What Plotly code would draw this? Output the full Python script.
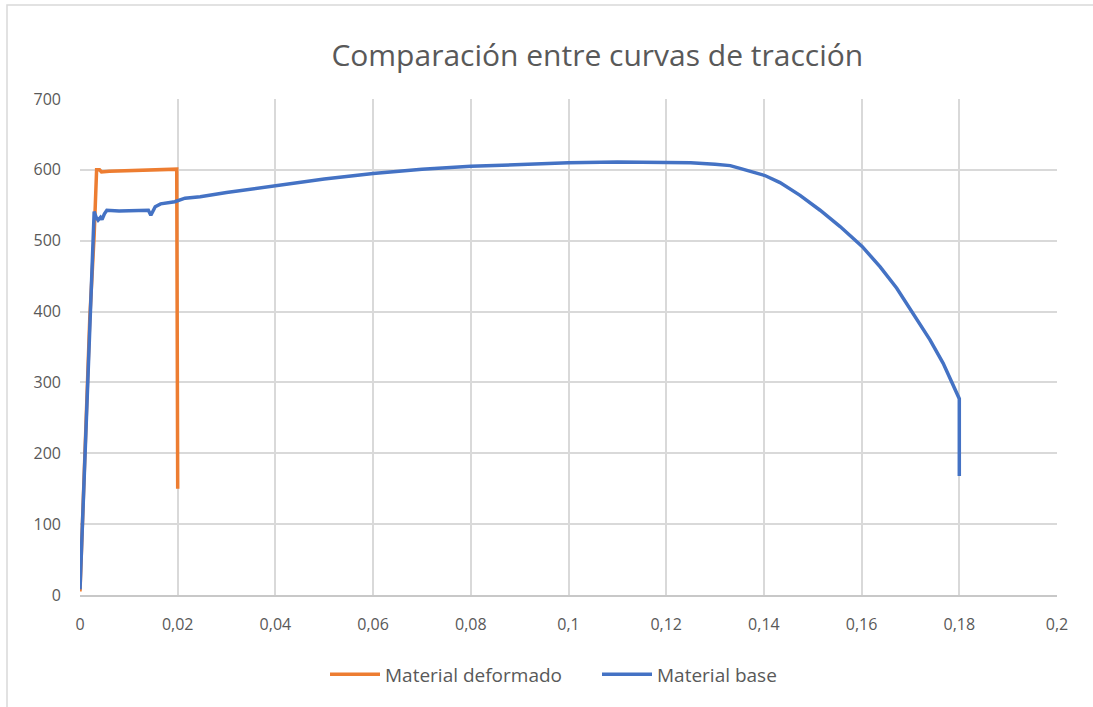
import plotly.graph_objects as go

# Tensile test curves: strain (x) vs. stress (y)
deformado_strain = [0.0, 0.0020, 0.0029, 0.0031, 0.0034, 0.0040, 0.0044, 0.0060, 0.0100, 0.0150,
                    0.0198, 0.0200]
deformado_stress = [5, 390, 508, 560, 600, 600, 597, 598, 599, 600, 601, 150]

base_strain = [0.0, 0.0027, 0.0029, 0.0033, 0.0037, 0.0042, 0.0045, 0.0050, 0.0055, 0.0080,
               0.0110, 0.0140, 0.0145, 0.0154, 0.0165, 0.0194, 0.0215, 0.0246, 0.0300, 0.0400,
               0.0500, 0.0600, 0.0700, 0.0800, 0.0900, 0.1000, 0.1100, 0.1200, 0.1250, 0.1300,
               0.1331, 0.1351, 0.1380, 0.1402, 0.1433, 0.1474, 0.1515, 0.1556, 0.1601, 0.1638,
               0.1672, 0.1706, 0.1740, 0.1767, 0.1788, 0.1800, 0.1800]
base_stress = [8, 536, 541, 533, 529, 533, 530, 538, 543, 542,
               543, 543, 536, 548, 552, 555, 560, 562, 568, 578,
               587, 595, 601, 605, 608, 610, 611, 611, 610, 608,
               606, 602, 597, 592, 582, 564, 543, 520, 492, 463,
               433, 397, 360, 327, 296, 277, 168]

x_ticks = [0, 0.02, 0.04, 0.06, 0.08, 0.1, 0.12, 0.14, 0.16, 0.18, 0.2]
y_ticks = [0, 100, 200, 300, 400, 500, 600, 700]

TEXT = "#595959"
GRID = "#d9d9d9"
FONT = "Open Sans"

fig = go.Figure()
fig.add_trace(go.Scatter(x=deformado_strain, y=deformado_stress, mode="lines",
                         name="Material deformado",
                         line=dict(color="#ED7D31", width=3.5)))
fig.add_trace(go.Scatter(x=base_strain, y=base_stress, mode="lines",
                         name="Material base",
                         line=dict(color="#4472C4", width=3.5)))

fig.update_layout(
    width=1093, height=707,
    margin=dict(l=80, r=36, t=99, b=112),
    paper_bgcolor="white", plot_bgcolor="white",
    separators=",.",
    font=dict(family=FONT, color=TEXT, size=15),
    title=dict(text="Comparación entre curvas de tracción",
               x=0.5465, xanchor="center", y=0.922, yanchor="middle",
               font=dict(family=FONT, size=30, color=TEXT)),
    legend=dict(orientation="h", x=(325 - 80) / 977, xanchor="left", y=-0.16, yanchor="middle",
                font=dict(family=FONT, size=19, color=TEXT), itemwidth=50,
                entrywidth=207, entrywidthmode="pixels",
                traceorder="normal"),
    shapes=[dict(type="rect", xref="paper", yref="paper",
                 x0=(7 - 80) / 977, x1=(1100 - 80) / 977,
                 y0=(595 - 720) / 496, y1=(595 - 5) / 496,
                 line=dict(color=GRID, width=1.5), layer="below")],
)
fig.update_xaxes(range=[0, 0.2], tickvals=x_ticks, showgrid=True, gridcolor=GRID,
                 gridwidth=1.5, zeroline=False, showline=True, linecolor="#c8c8c8",
                 linewidth=1.5, ticks="", ticklabelstandoff=14,
                 tickfont=dict(size=16, color=TEXT))
fig.update_yaxes(range=[0, 700], tickvals=y_ticks, showgrid=True, gridcolor=GRID,
                 gridwidth=1.5, zeroline=False, showline=False, ticks="",
                 ticklabelstandoff=18, tickfont=dict(size=16, color=TEXT))

fig.write_html("out.html")
